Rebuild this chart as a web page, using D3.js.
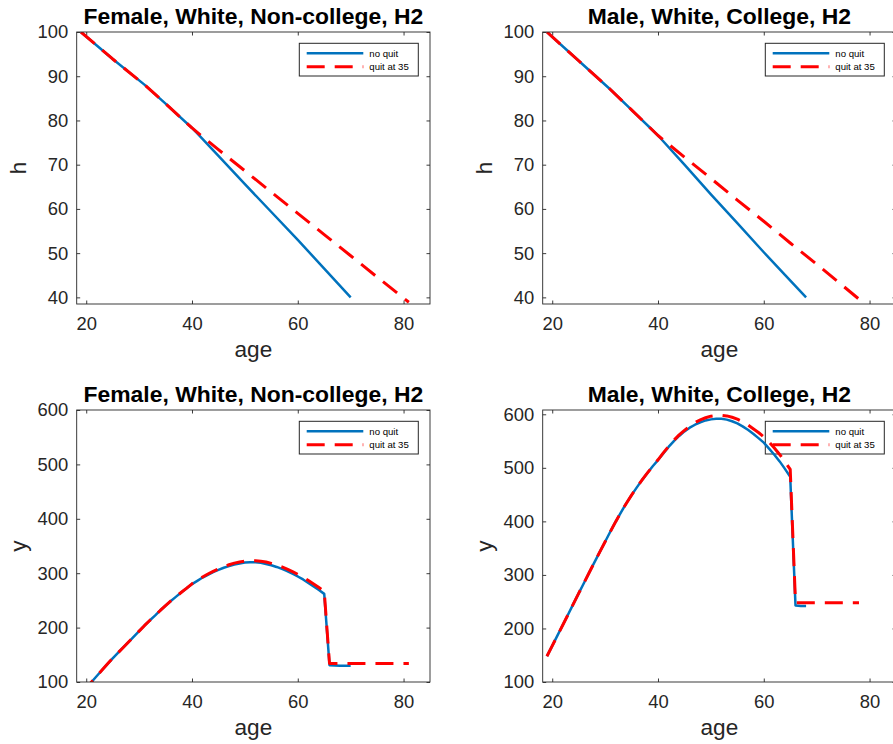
<!DOCTYPE html>
<html><head><meta charset="utf-8">
<script src="https://cdn.jsdelivr.net/npm/d3@7"></script>
<style>body{margin:0;background:#fff}</style>
</head><body><svg id="c" width="893" height="744"></svg>
<script>
// ---------- data ----------
const seriesNames = ["no quit", "quit at 35"];
const xTicks = [20, 40, 60, 80];
const yTicksH = [40, 50, 60, 70, 80, 90, 100];
const yTicksY = [100, 200, 300, 400, 500, 600];

// Panel 1: Female, White, Non-college — h
const ageHF_noquit = [19, 25, 31, 35, 40, 41, 45, 50, 55, 60, 65, 70];
const hF_noquit    = [100, 93.9, 88.1, 83.8, 78.3, 77.1, 72.0, 65.6, 59.3, 53.0, 46.5, 40.0];
const ageHF_quit   = [19, 25, 31, 35, 40, 41, 45, 50, 55, 60, 65, 70, 75, 81];
const hF_quit      = [100, 93.9, 88.1, 83.8, 78.3, 77.3, 73.4, 68.6, 63.8, 59.0, 54.2, 49.4, 44.6, 38.9];

// Panel 2: Male, White, College — h
const ageHM_noquit = [19, 25, 31, 35, 40, 45, 50, 55, 60, 64, 68];
const hM_noquit    = [100, 93.5, 87.0, 82.4, 76.6, 70.0, 63.3, 56.8, 50.2, 45.1, 40.0];
const ageHM_quit   = [19, 25, 31, 35, 40, 41, 45, 50, 55, 60, 65, 70, 78];
const hM_quit      = [100, 93.5, 87.0, 82.4, 76.6, 75.6, 71.7, 66.9, 62.0, 57.2, 52.3, 47.5, 39.6];

// Panel 3: Female, White, Non-college — y
const ageYF_noquit = [19, 20, 21, 22, 23, 24, 25, 26, 27, 28, 29, 30, 31, 32, 33, 34, 35, 36, 37, 38, 39, 40,
  41, 42, 43, 44, 45, 46, 47, 48, 49, 50, 51, 52, 53, 54, 55, 56, 57, 58, 59, 60, 61, 62, 63, 64, 65, 66, 67, 68, 69, 70];
const yF_noquit    = [78, 89, 100, 111, 122, 133, 143.5, 153.5, 163.5, 173.5, 183.5, 193.5, 203.5, 213, 222, 231.5, 240.5, 249, 257, 265, 272.5, 280,
  286, 292, 297, 302, 306, 310, 313, 316, 318, 319.5, 320, 320, 319, 317, 314.5, 311.5, 308, 304, 299, 294, 288.5, 282, 275.5, 269, 262, 131, 130.5, 130, 130, 130];
const ageYF_quit   = [19, 20, 21, 22, 23, 24, 25, 26, 27, 28, 29, 30, 31, 32, 33, 34, 35, 36, 37, 38, 39, 40,
  41, 42, 43, 44, 45, 46, 47, 48, 49, 50, 51, 52, 53, 54, 55, 56, 57, 58, 59, 60, 61, 62, 63, 64, 65, 66, 70, 75, 81];
const yF_quit      = [78, 89, 100, 111, 122, 133, 143.5, 153.5, 163.5, 173.5, 183.5, 193.5, 203.5, 213, 222, 231.5, 240.5, 249, 257, 265, 272.5, 280.5,
  287, 293, 298.5, 303.5, 308, 312, 315.5, 318.5, 320.5, 322, 323, 323, 322, 320.5, 318, 315, 311.5, 307.5, 303, 298, 292.5, 286.5, 280, 273.5, 267, 134, 134, 134, 134];

// Panel 4: Male, White, College — y
const ageYM_noquit = [19, 20, 21, 22, 23, 24, 25, 26, 27, 28, 29, 30, 31, 32, 33, 34, 35, 36, 37, 38, 39, 40,
  41, 42, 43, 44, 45, 46, 47, 48, 49, 50, 51, 52, 53, 54, 55, 56, 57, 58, 59, 60, 61, 62, 63, 64, 65, 66, 67, 68];
const yM_noquit    = [148, 167.5, 187, 206.5, 226, 246, 265.5, 285, 304.5, 324, 343, 362, 381, 399.5, 417, 433.5, 449, 463.5, 477.5, 490.5, 503, 514.5,
  527, 539, 550, 559.5, 568, 575, 580.5, 585, 588.5, 590.5, 591.5, 591.5, 590, 587, 583, 577.5, 571, 563.5, 555.5, 547, 536, 524.5, 512, 498, 483, 243, 242, 242];
const ageYM_quit   = [19, 20, 21, 22, 23, 24, 25, 26, 27, 28, 29, 30, 31, 32, 33, 34, 35, 36, 37, 38, 39, 40,
  41, 42, 43, 44, 45, 46, 47, 48, 49, 50, 51, 52, 53, 54, 55, 56, 57, 58, 59, 60, 61, 62, 63, 64, 65, 66, 70, 74, 78];
const yM_quit      = [148, 167.5, 187, 206.5, 226, 246, 265.5, 285, 304.5, 324, 343, 362, 381, 399.5, 417, 433.5, 449, 463.5, 477.5, 490.5, 503, 515,
  528, 540, 551.5, 561.5, 570, 578, 584.5, 589.5, 593.5, 596.5, 598, 598, 597, 594.5, 591, 586, 580, 573, 566, 558, 548, 537, 525, 511.5, 497, 248, 248, 248, 248];

// ---------- layout ----------
const PW = 353.3, PH = 272;
const FONT = "'Liberation Sans', Helvetica, Arial, sans-serif";
const panels = [
  {title: "Female, White, Non-college, H2", ylab: "h", left: 76.7, top: 32, xd: [18.2, 85], yd: [38.5, 100], yt: yTicksH,
   s: [[ageHF_noquit, hF_noquit], [ageHF_quit, hF_quit]]},
  {title: "Male, White, College, H2", ylab: "h", left: 542.7, top: 32, xd: [18.2, 85], yd: [38.5, 100], yt: yTicksH,
   s: [[ageHM_noquit, hM_noquit], [ageHM_quit, hM_quit]]},
  {title: "Female, White, Non-college, H2", ylab: "y", left: 76.7, top: 410, xd: [18.2, 85], yd: [100, 600], yt: yTicksY,
   s: [[ageYF_noquit, yF_noquit], [ageYF_quit, yF_quit]]},
  {title: "Male, White, College, H2", ylab: "y", left: 542.7, top: 410, xd: [18.2, 85], yd: [100, 608], yt: yTicksY,
   s: [[ageYM_noquit, yM_noquit], [ageYM_quit, yM_quit]]}
];
const styles = [
  {color: "#0072BD", width: 2.5, dash: null},
  {color: "#FF0000", width: 3, dash: "18,10"}
];

const svg = d3.select("#c");
svg.append("rect").attr("width", 893).attr("height", 744).attr("fill", "#fff");

panels.forEach((p, i) => {
  const g = svg.append("g").attr("transform", `translate(${p.left},${p.top})`);
  const x = d3.scaleLinear().domain(p.xd).range([0, PW]);
  const y = d3.scaleLinear().domain(p.yd).range([PH, 0]);

  const clipId = "clip" + i;
  g.append("clipPath").attr("id", clipId).append("rect").attr("width", PW).attr("height", PH);

  const styleAxis = a => {
    a.select(".domain").remove();
    a.selectAll(".tick line").attr("stroke", "#262626").attr("stroke-width", 0.9);
    a.selectAll(".tick text").attr("fill", "#262626").style("font-family", FONT).style("font-size", "18.4px");
  };
  g.append("g").attr("transform", `translate(0,${PH})`)
    .call(d3.axisBottom(x).tickValues(xTicks).tickSize(-3.5).tickPadding(13).tickFormat(d3.format("d")))
    .call(styleAxis);
  g.append("g")
    .call(d3.axisTop(x).tickValues(xTicks).tickSize(-3.5).tickFormat(""))
    .call(styleAxis);
  g.append("g")
    .call(d3.axisLeft(y).tickValues(p.yt).tickSize(-3.5).tickPadding(8.4).tickFormat(d3.format("d")))
    .call(styleAxis);
  g.append("g").attr("transform", `translate(${PW},0)`)
    .call(d3.axisRight(y).tickValues(p.yt).tickSize(-3.5).tickFormat(""))
    .call(styleAxis);

  // legend frame (transparent)
  const lg = g.append("g").attr("transform", `translate(${PW - 11.7 - 119},11.3)`);
  lg.append("rect").attr("width", 119).attr("height", 32.7)
    .attr("fill", "none").attr("stroke", "#262626").attr("stroke-width", 1);
  seriesNames.forEach((n, k) => {
    const yy = k === 0 ? 10 : 23.5;
    lg.append("line").attr("x1", 7.4).attr("x2", 64).attr("y1", yy).attr("y2", yy)
      .attr("stroke", styles[k].color).attr("stroke-width", styles[k].width)
      .attr("stroke-dasharray", styles[k].dash);
    lg.append("text").attr("x", 70).attr("y", yy).attr("dy", "0.35em")
      .style("font-family", FONT).style("font-size", "9.6px").attr("fill", "#000").text(n);
  });

  // lines
  const line = d3.line().x(d => x(d[0])).y(d => y(d[1]));
  const lines = g.append("g").attr("clip-path", `url(#${clipId})`);
  p.s.forEach((s, k) => {
    const pts = s[0].map((a, j) => [a, s[1][j]]);
    lines.append("path").datum(pts).attr("d", line)
      .attr("fill", "none").attr("stroke", styles[k].color)
      .attr("stroke-width", styles[k].width)
      .attr("stroke-dasharray", styles[k].dash)
      .attr("stroke-linejoin", "round");
  });

  // box
  g.append("rect").attr("width", PW).attr("height", PH)
    .attr("fill", "none").attr("stroke", "#262626").attr("stroke-width", 0.9);

  // title and labels
  g.append("text").attr("x", PW / 2).attr("y", -7.7).attr("text-anchor", "middle")
    .style("font-family", FONT).style("font-size", "22.9px").style("font-weight", "bold")
    .attr("fill", "#000").text(p.title);
  g.append("text").attr("x", PW / 2).attr("y", PH + 52.5).attr("text-anchor", "middle")
    .style("font-family", FONT).style("font-size", "22.6px").attr("fill", "#262626").text("age");
  g.append("text").attr("transform", `translate(-51,${PH / 2}) rotate(-90)`).attr("text-anchor", "middle")
    .style("font-family", FONT).style("font-size", "22.6px").attr("fill", "#262626").text(p.ylab);
});
</script>
</body></html>
